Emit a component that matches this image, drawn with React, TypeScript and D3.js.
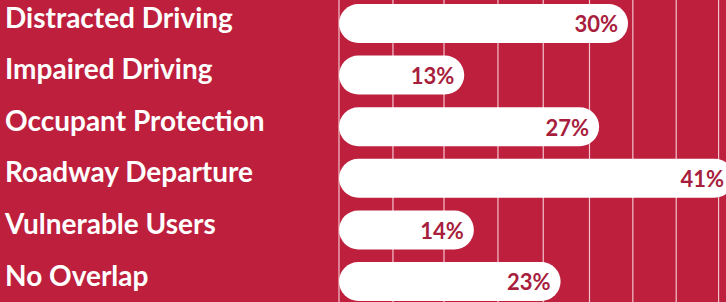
import { useEffect, useRef } from "react";
import * as d3 from "d3";

const categories = [
  "Distracted Driving",
  "Impaired Driving",
  "Occupant Protection",
  "Roadway Departure",
  "Vulnerable Users",
  "No Overlap",
];
const values = [30, 13, 27, 41, 14, 23];
// vertical rule positions, in percent units
const gridValues = [0, 5.6, 10.9, 16.5, 21.2, 26, 30.5, 35, 39.4];

const WIDTH = 726;
const HEIGHT = 302;
const BG = "#bd1f3d";
const TEXT_DARK = "#a81e3d";

export default function App() {
  const ref = useRef<SVGSVGElement>(null);

  useEffect(() => {
    if (!ref.current) return;
    const svg = d3.select(ref.current);
    svg.selectAll("*").remove();

    svg
      .append("rect")
      .attr("width", WIDTH)
      .attr("height", HEIGHT)
      .attr("fill", BG);

    const x = d3.scaleLinear().domain([0, 41]).range([339, 734]);
    const y = d3
      .scaleBand()
      .domain(categories)
      .range([4, 301])
      .paddingInner(0.244)
      .paddingOuter(0);

    // grid
    svg
      .append("g")
      .selectAll("line")
      .data(gridValues)
      .enter()
      .append("line")
      .attr("x1", (d) => x(d))
      .attr("x2", (d) => x(d))
      .attr("y1", 0)
      .attr("y2", HEIGHT)
      .attr("stroke", "#f3c3cc")
      .attr("stroke-width", 1.2);

    const rows = svg
      .append("g")
      .selectAll("g")
      .data(categories)
      .enter()
      .append("g");

    const bh = y.bandwidth();

    rows
      .append("rect")
      .attr("x", x(0))
      .attr("y", (d) => y(d)!)
      .attr("width", (d, i) => x(values[i]) - x(0))
      .attr("height", bh)
      .attr("rx", bh / 2)
      .attr("fill", "#ffffff");

    rows
      .append("text")
      .attr("x", (d, i) => x(values[i]) - 10)
      .attr("y", (d) => y(d)! + bh / 2)
      .attr("dy", "0.4em")
      .attr("text-anchor", "end")
      .attr("font-family", "Lato, sans-serif")
      .attr("font-weight", 700)
      .attr("font-size", 22)
      .attr("fill", TEXT_DARK)
      .text((d, i) => `${values[i]}%`);

    rows
      .append("text")
      .attr("x", 5)
      .attr("y", (d) => y(d)! + bh / 2 - 6)
      .attr("dy", "0.36em")
      .attr("font-family", "Lato, sans-serif")
      .attr("font-weight", 700)
      .attr("font-size", 28)
      .attr("fill", "#ffffff")
      .text((d) => d);
  }, []);

  return (
    <svg
      ref={ref}
      width={WIDTH}
      height={HEIGHT}
      style={{ position: "absolute", left: 0, top: 0, display: "block" }}
    />
  );
}
